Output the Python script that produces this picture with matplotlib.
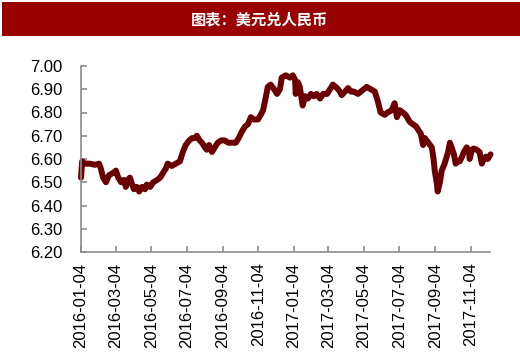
import matplotlib
matplotlib.use("Agg")
import matplotlib.pyplot as plt
import matplotlib.dates as mdates
import pandas as pd
from matplotlib.patches import Rectangle

title = "图表：美元兑人民币"

dates = [
    "2016-01-04", "2016-01-06", "2016-01-11", "2016-01-19", "2016-01-28", "2016-02-04",
    "2016-02-07", "2016-02-11", "2016-02-16", "2016-02-21", "2016-02-28", "2016-03-04",
    "2016-03-08", "2016-03-13", "2016-03-18", "2016-03-21", "2016-03-25", "2016-03-28",
    "2016-04-01", "2016-04-04", "2016-04-09", "2016-04-13", "2016-04-18", "2016-04-23",
    "2016-04-26", "2016-05-02", "2016-05-07", "2016-05-14", "2016-05-19", "2016-05-24",
    "2016-05-29", "2016-06-01", "2016-06-08", "2016-06-15", "2016-06-22", "2016-06-27",
    "2016-07-02", "2016-07-08", "2016-07-13", "2016-07-18", "2016-07-21", "2016-07-26",
    "2016-07-30", "2016-08-04", "2016-08-07", "2016-08-11", "2016-08-16", "2016-08-21",
    "2016-08-26", "2016-09-01", "2016-09-07", "2016-09-13", "2016-09-19", "2016-09-26",
    "2016-10-01", "2016-10-07", "2016-10-12", "2016-10-17", "2016-10-22", "2016-10-27",
    "2016-11-03", "2016-11-08", "2016-11-12", "2016-11-17", "2016-11-20", "2016-11-25",
    "2016-12-01", "2016-12-06", "2016-12-11", "2016-12-14", "2016-12-21", "2016-12-28",
    "2017-01-02", "2017-01-06", "2017-01-07", "2017-01-11", "2017-01-14", "2017-01-19",
    "2017-01-23", "2017-01-28", "2017-02-02", "2017-02-07", "2017-02-12", "2017-02-18",
    "2017-02-23", "2017-03-02", "2017-03-07", "2017-03-12", "2017-03-19", "2017-03-24",
    "2017-03-27", "2017-04-02", "2017-04-07", "2017-04-12", "2017-04-17", "2017-04-24",
    "2017-04-29", "2017-05-04", "2017-05-09", "2017-05-16", "2017-05-23", "2017-05-28",
    "2017-06-02", "2017-06-09", "2017-06-14", "2017-06-21", "2017-06-26", "2017-06-30",
    "2017-07-05", "2017-07-10", "2017-07-15", "2017-07-22", "2017-07-27", "2017-08-02",
    "2017-08-07", "2017-08-10", "2017-08-14", "2017-08-17", "2017-08-20", "2017-08-26",
    "2017-08-29", "2017-09-01", "2017-09-03", "2017-09-07", "2017-09-08", "2017-09-12",
    "2017-09-15", "2017-09-20", "2017-09-26", "2017-09-29", "2017-10-02", "2017-10-06",
    "2017-10-09", "2017-10-13", "2017-10-16", "2017-10-20", "2017-10-23", "2017-10-28",
    "2017-11-01", "2017-11-02", "2017-11-06", "2017-11-09", "2017-11-14", "2017-11-19",
    "2017-11-23", "2017-11-26", "2017-11-30", "2017-12-03", "2017-12-08",
]

usdcny = [
    6.52, 6.59, 6.58, 6.58, 6.575, 6.58,
    6.56, 6.52, 6.50, 6.53, 6.54, 6.55,
    6.52, 6.50, 6.51, 6.48, 6.51, 6.52,
    6.49, 6.47, 6.48, 6.46, 6.48, 6.47,
    6.49, 6.48, 6.50, 6.51, 6.52, 6.54,
    6.56, 6.58, 6.57, 6.58, 6.59, 6.63,
    6.66, 6.68, 6.69, 6.69, 6.70, 6.68,
    6.67, 6.65, 6.64, 6.66, 6.63, 6.65,
    6.67, 6.68, 6.68, 6.67, 6.67, 6.67,
    6.69, 6.72, 6.74, 6.75, 6.78, 6.77,
    6.77, 6.79, 6.81, 6.87, 6.91, 6.92,
    6.90, 6.88, 6.90, 6.95, 6.96, 6.95,
    6.96, 6.94, 6.88, 6.93, 6.91, 6.83,
    6.87, 6.86, 6.88, 6.87, 6.88, 6.86,
    6.88, 6.88, 6.90, 6.92, 6.905, 6.89,
    6.875, 6.89, 6.905, 6.89, 6.89, 6.88,
    6.89, 6.90, 6.91, 6.90, 6.89, 6.85,
    6.80, 6.79, 6.80, 6.81, 6.84, 6.78,
    6.81, 6.80, 6.79, 6.76, 6.75, 6.74,
    6.72, 6.71, 6.66, 6.69, 6.68, 6.66,
    6.65, 6.60, 6.55, 6.49, 6.46, 6.50,
    6.55, 6.58, 6.63, 6.67, 6.65, 6.62,
    6.58, 6.59, 6.59, 6.61, 6.63, 6.65,
    6.63, 6.60, 6.64, 6.645, 6.64, 6.63,
    6.58, 6.60, 6.61, 6.60, 6.62,
]

tick_dates = [
    "2016-01-04", "2016-03-04", "2016-05-04", "2016-07-04", "2016-09-04", "2016-11-04",
    "2017-01-04", "2017-03-04", "2017-05-04", "2017-07-04", "2017-09-04", "2017-11-04",
]
y_ticks = [6.20, 6.30, 6.40, 6.50, 6.60, 6.70, 6.80, 6.90, 7.00]

plt.rcParams['font.family'] = ['Liberation Sans', 'DejaVu Sans']

fig = plt.figure(figsize=(5.2, 3.57), dpi=100)
fig.patch.set_facecolor('white')

# Title bar
fig.patches.append(Rectangle((0.004, 1 - 36 / 357), 0.996, 34 / 357, transform=fig.transFigure,
                             facecolor='#990000', edgecolor='none', zorder=0))
fig.text(0.5, 1 - 19 / 357, title, ha='center', va='center', color='white', fontsize=11,
         fontweight='bold', family=['Noto Sans CJK SC', 'DejaVu Sans'])

ax = fig.add_axes([81 / 520, 1 - 252 / 357, (490 - 81) / 520, (252 - 66) / 357])
x = pd.to_datetime(dates)
ax.plot(x, usdcny, color='#6A0000', linewidth=4.3, solid_joinstyle='round', solid_capstyle='round',
        clip_on=False)

ax.set_ylim(6.20, 7.00)
ax.set_yticks(y_ticks)
ax.set_yticklabels([f"{v:.2f}" for v in y_ticks])
ax.set_xlim(pd.Timestamp("2016-01-04"), pd.Timestamp("2017-12-07"))
ax.set_xticks(pd.to_datetime(tick_dates))
ax.set_xticklabels(tick_dates, rotation=90)

for s in ['top', 'right']:
    ax.spines[s].set_visible(False)
for s in ['left', 'bottom']:
    ax.spines[s].set_color('#8c8c8c')
    ax.spines[s].set_linewidth(1.2)

ax.tick_params(axis='y', direction='in', length=4, width=1.2, color='#8c8c8c', labelsize=12, pad=13.5)
ax.tick_params(axis='x', direction='in', length=4, width=1.2, color='#8c8c8c', labelsize=12, pad=7.5)

fig.savefig("out.png", dpi=100, facecolor='white')
